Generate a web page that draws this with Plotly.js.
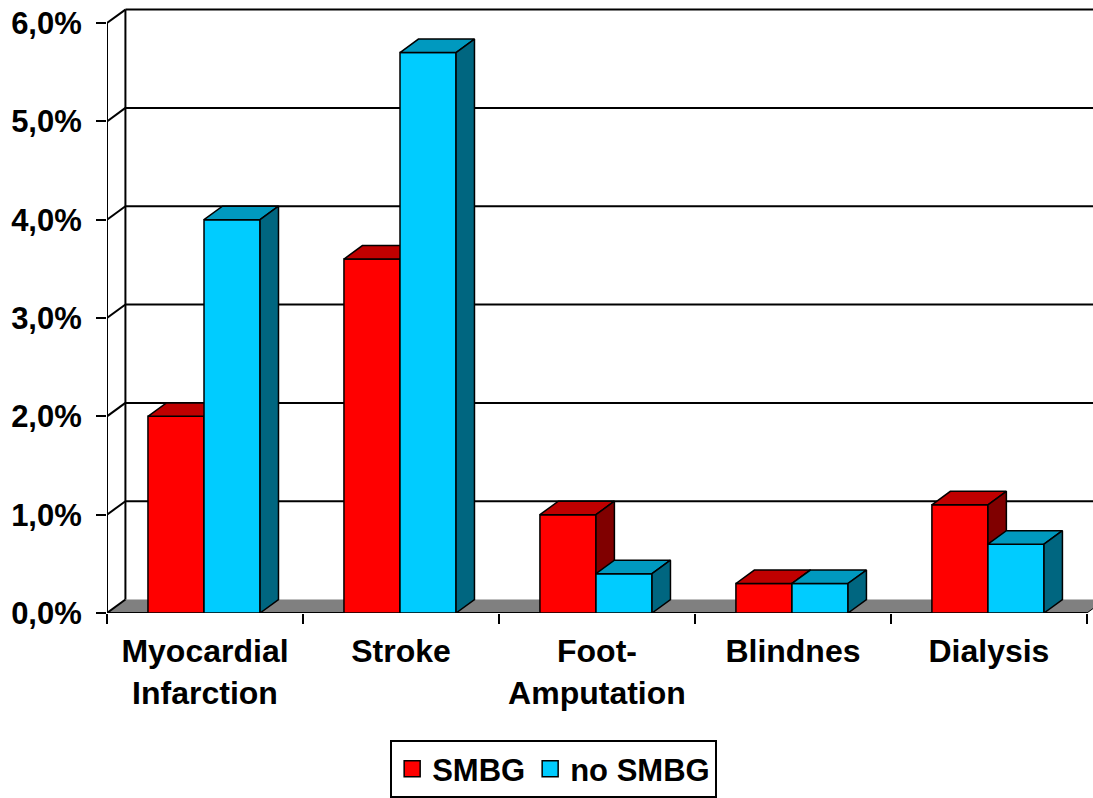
<!DOCTYPE html>
<html>
<head>
<meta charset="utf-8">
<script src="https://cdn.plot.ly/plotly-3.0.1.min.js"></script>
<style>html,body{margin:0;padding:0;background:#fff;}#chart{width:1093px;height:798px;}</style>
</head>
<body>
<div id="chart"></div>
<script>
// ---- data ----
const categories = ['Myocardial<br>Infarction', 'Stroke', 'Foot-<br>Amputation', 'Blindnes', 'Dialysis'];
const smbg = [2.0, 3.6, 1.0, 0.3, 1.1];
const noSmbg = [4.0, 5.7, 0.4, 0.3, 0.7];
const yTickVals = [0, 1, 2, 3, 4, 5, 6];
const yTickText = ['0,0%', '1,0%', '2,0%', '3,0%', '4,0%', '5,0%', '6,0%'];
const seriesNames = ['SMBG', 'no SMBG'];

// ---- geometry / style ----
const FONT = 'Liberation Sans, Arial, sans-serif';
const DX = 0.094, DY = 0.137;      // 3D depth offset in axis units
const BAR_W = 0.286;
const OFF = [-0.291, -0.005];
const XMIN = -0.5, XMAX = 4.531, YMAX = 6.153;
const COLORS = [
  {front: '#FF0000', top: '#BF0000', side: '#800000'},
  {front: '#00CCFF', top: '#0099BF', side: '#006680'}
];
const idx = categories.map((c, i) => i);

function topFace(vals, off) {
  const x = [], y = [];
  vals.forEach((v, i) => {
    const xl = i + off, xr = xl + BAR_W;
    x.push(xl, xl + DX, xr + DX, xr, xl, null);
    y.push(v, v + DY, v + DY, v, v, null);
  });
  return {x, y};
}
function sideFace(vals, off) {
  const x = [], y = [];
  vals.forEach((v, i) => {
    const xr = i + off + BAR_W;
    x.push(xr, xr + DX, xr + DX, xr, xr, null);
    y.push(0, DY, v + DY, v, 0, null);
  });
  return {x, y};
}

const traces = [];
[smbg, noSmbg].forEach((vals, s) => {
  const xa = s === 0 ? 'x' : 'x2', ya = s === 0 ? 'y' : 'y2';
  const c = COLORS[s];
  traces.push({
    type: 'bar', x: idx, y: vals, width: BAR_W, offset: OFF[s],
    marker: {color: c.front, line: {color: 'black', width: 1.5}},
    xaxis: xa, yaxis: ya, showlegend: false, hoverinfo: 'skip', name: seriesNames[s]
  });
  const t = topFace(vals, OFF[s]);
  traces.push({type: 'scatter', mode: 'lines', x: t.x, y: t.y, fill: 'toself', fillcolor: c.top,
    line: {color: 'black', width: 1.5}, xaxis: xa, yaxis: ya, showlegend: false, hoverinfo: 'skip'});
  const sd = sideFace(vals, OFF[s]);
  traces.push({type: 'scatter', mode: 'lines', x: sd.x, y: sd.y, fill: 'toself', fillcolor: c.side,
    line: {color: 'black', width: 1.5}, xaxis: xa, yaxis: ya, showlegend: false, hoverinfo: 'skip'});
});
// legend entries
seriesNames.forEach((n, s) => {
  traces.push({type: 'scatter', mode: 'markers', x: [null], y: [null], name: n,
    marker: {symbol: 'square', size: 16, color: COLORS[s].front, line: {color: 'black', width: 1.5}},
    showlegend: true, hoverinfo: 'skip'});
});

// wall, floor and gridlines
const shapes = [];
const xLast = categories.length - 0.5;
shapes.push({type: 'path', xref: 'x', yref: 'y', layer: 'below',
  path: `M ${XMIN},0 L ${xLast},0 L ${xLast + DX},${DY} L ${XMIN + DX},${DY} Z`,
  fillcolor: '#808080', line: {width: 0}});
yTickVals.forEach(v => {
  shapes.push({type: 'line', xref: 'x', yref: 'y', layer: 'below', x0: XMIN, y0: v, x1: XMIN + DX, y1: v + DY,
    line: {color: 'black', width: 2}});
  if (v > 0) shapes.push({type: 'line', xref: 'x', yref: 'y', layer: 'below', x0: XMIN + DX, y0: v + DY, x1: XMAX + 1, y1: v + DY,
    line: {color: 'black', width: 2}});
});
const yTop = yTickVals[yTickVals.length - 1];
shapes.push({type: 'line', xref: 'x', yref: 'y', layer: 'below', x0: XMIN, y0: 0, x1: XMIN, y1: yTop, line: {color: 'black', width: 2}});
shapes.push({type: 'line', xref: 'x', yref: 'y', layer: 'below', x0: XMIN + DX, y0: DY, x1: XMIN + DX, y1: yTop + DY, line: {color: 'black', width: 2}});
shapes.push({type: 'line', xref: 'x', yref: 'y', layer: 'below', x0: XMIN, y0: 0, x1: xLast, y1: 0, line: {color: 'black', width: 2}});
shapes.push({type: 'line', xref: 'x', yref: 'y', layer: 'below', x0: xLast, y0: 0, x1: xLast + DX, y1: DY, line: {color: 'black', width: 1}});

const boundaries = categories.map((c, i) => i - 0.5).concat([xLast]);
const xFont = {family: FONT, size: 32, color: 'black', weight: 'bold'};
const yFont = {family: FONT, size: 31, color: 'black', weight: 'bold'};
const legFont = {family: FONT, size: 31, color: 'black', weight: 'bold'};

const layout = {
  width: 1093, height: 798,
  margin: {l: 107, r: 0, t: 8, b: 185, pad: 0},
  paper_bgcolor: 'white', plot_bgcolor: 'white',
  showlegend: true,
  xaxis: {range: [XMIN, XMAX], tickvals: idx, ticktext: categories, ticks: '', showgrid: false,
    zeroline: false, showline: false, tickfont: xFont, fixedrange: true, ticklabelstandoff: 16},
  xaxis2: {overlaying: 'x', anchor: 'y', side: 'bottom', range: [XMIN, XMAX], tickvals: boundaries,
    ticks: 'outside', ticklen: 10, tickwidth: 2, tickcolor: 'black', showticklabels: false,
    showgrid: false, zeroline: false, showline: false, fixedrange: true},
  yaxis: {range: [0, YMAX], tickvals: yTickVals, ticktext: yTickText, ticks: 'outside', ticklen: 10,
    tickwidth: 2, tickcolor: 'black', showgrid: false, zeroline: false, showline: false,
    tickfont: yFont, ticklabelstandoff: 8, fixedrange: true},
  yaxis2: {overlaying: 'y', anchor: 'x', range: [0, YMAX], visible: false, fixedrange: true},
  legend: {orientation: 'h', x: 0.453, xanchor: 'center', y: -0.210, yanchor: 'top',
    bordercolor: 'black', borderwidth: 2, bgcolor: 'white', font: legFont, traceorder: 'normal'},
  shapes: shapes
};

Plotly.newPlot('chart', traces, layout, {displayModeBar: false, staticPlot: true});
</script>
</body>
</html>
